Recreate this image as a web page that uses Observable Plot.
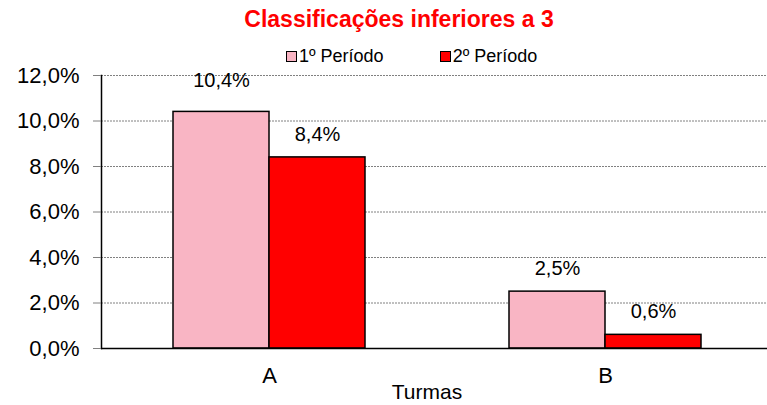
<!DOCTYPE html>
<html>
<head>
<meta charset="utf-8">
<script src="https://cdn.jsdelivr.net/npm/d3@7"></script>
<script src="https://cdn.jsdelivr.net/npm/@observablehq/plot@0.6"></script>
<style>
  body { margin: 0; background: #fff; font-family: "Liberation Sans", Arial, sans-serif; }
  #wrap { position: relative; width: 767px; height: 405px; overflow: hidden; }
  #title { position: absolute; left: 0; width: 798px; top: 6px; text-align: center; color: #ff0000; font-weight: bold; font-size: 23px; }
  #legend { position: absolute; top: 46px; left: 286px; font-size: 18px; display: flex; }
  .item { display: flex; align-items: center; margin-right: 56px; }
  .sw { width: 11px; height: 11px; border: 1px solid #000; margin-right: 2px; box-sizing: border-box; }
  #xlabel { position: absolute; left: 0; width: 854px; top: 383px; height: 18px; line-height: 18px; text-align: center; font-size: 21px; }
  svg { position: absolute; left: 0; top: 0; }
</style>
</head>
<body>
<div id="wrap">
  <div id="chart"></div>
  <div id="title">Classificações inferiores a 3</div>
  <div id="legend"></div>
  <div id="xlabel">Turmas</div>
</div>
<script>
const turmas = ["A", "B"];
const periodos = ["1º Período", "2º Período"];
const periodo1 = [10.4, 2.5];
const periodo2 = [8.4, 0.6];
const yTicks = [0, 2, 4, 6, 8, 10, 12];
const colors = ["#F9B5C4", "#FF0000"];

const data = [];
turmas.forEach((t, i) => {
  data.push({turma: t, periodo: periodos[0], value: periodo1[i]});
  data.push({turma: t, periodo: periodos[1], value: periodo2[i]});
});
const fmt = v => v.toFixed(1).replace(".", ",") + "%";

const chart = Plot.plot({
  width: 767,
  height: 405,
  marginTop: 75,
  marginBottom: 57,
  marginLeft: 100,
  marginRight: -6,
  style: {fontFamily: "Liberation Sans, Arial, sans-serif", color: "#000", background: "transparent"},
  fx: {domain: turmas, padding: 0, label: null},
  x: {domain: periodos, paddingInner: 0, paddingOuter: 0.74, axis: null},
  y: {domain: [0, 12], label: null},
  color: {domain: periodos, range: colors},
  marks: [
    Plot.ruleY(yTicks.filter(d => d > 0), {stroke: "#808080", strokeWidth: 1, strokeDasharray: "2,1"}),
    Plot.barY(data, {fx: "turma", x: "periodo", y: "value", fill: "periodo", stroke: "#000", strokeWidth: 1.5}),
    Plot.text(data.filter(d => d.value > 10), {fx: "turma", x: "periodo", y: "value", text: d => fmt(d.value), dy: -31, fontSize: 20, fill: "#000"}),
    Plot.text(data.filter(d => d.value <= 10), {fx: "turma", x: "periodo", y: "value", text: d => fmt(d.value), dy: -23, fontSize: 20, fill: "#000"}),
    Plot.ruleY([0], {stroke: "#000", strokeWidth: 1.5}),
    Plot.frame({anchor: "left", facetAnchor: "left", stroke: "#000", strokeWidth: 1.5}),
    Plot.axisY({ticks: yTicks, tickSize: 8, tickPadding: 14, fontSize: 22, tickFormat: fmt, label: null, stroke: "#808080", fill: "#000"}),
    Plot.axisFx({anchor: "bottom", tickSize: 0, tickPadding: 19, fontSize: 22, label: null, fill: "#000"})
  ]
});
document.getElementById("chart").appendChild(chart);

const legend = document.getElementById("legend");
periodos.forEach((p, i) => {
  const item = document.createElement("div");
  item.className = "item";
  const sw = document.createElement("div");
  sw.className = "sw";
  sw.style.background = colors[i];
  const lab = document.createElement("span");
  lab.textContent = p;
  item.appendChild(sw);
  item.appendChild(lab);
  legend.appendChild(item);
});
</script>
</body>
</html>
